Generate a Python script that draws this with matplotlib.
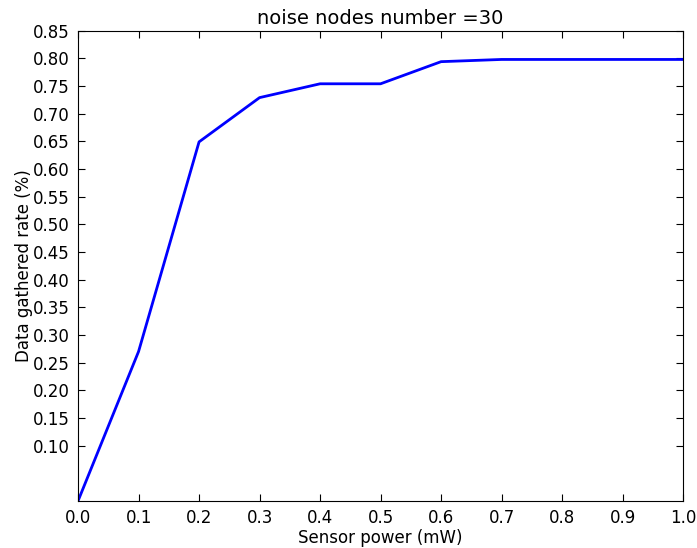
import matplotlib
matplotlib.use('Agg')
import matplotlib.pyplot as plt
import numpy as np

POWER = [0.0, 0.1, 0.2, 0.3, 0.4, 0.5, 0.6, 0.7, 0.8, 0.9, 1.0]
RATE = [0.0, 0.27, 0.649, 0.729, 0.754, 0.754, 0.794, 0.798, 0.798, 0.798, 0.798]
Y_TICKS = np.arange(0.10, 0.851, 0.05)
X_TICKS = np.arange(0.0, 1.01, 0.1)

plt.rcParams.update({
    'font.family': 'DejaVu Sans',
    'font.size': 12,
    'xtick.direction': 'in',
    'ytick.direction': 'in',
    'xtick.top': True,
    'ytick.right': True,
    'xtick.major.size': 5,
    'ytick.major.size': 5,
})

fig = plt.figure(figsize=(6.97, 5.48), dpi=100)
ax = fig.add_axes([0.112, 0.086, 0.868, 0.858])
ax.plot(POWER, RATE, color='blue', lw=2)

ax.set_xlim(0, 1.0)
ax.set_ylim(0, 0.85)
ax.set_xticks(X_TICKS)
ax.set_xticklabels([f'{v:.1f}' for v in X_TICKS])
ax.set_yticks(Y_TICKS)
ax.set_yticklabels([f'{v:.2f}' for v in Y_TICKS])
ax.tick_params(pad=6)

ax.set_xlabel('Sensor power (mW)', labelpad=1)
ax.set_ylabel('Data gathered rate (%)', labelpad=0)
ax.set_title('noise nodes number =30', fontsize=14, pad=5)

fig.savefig('out.png', dpi=100)
plt.close(fig)
